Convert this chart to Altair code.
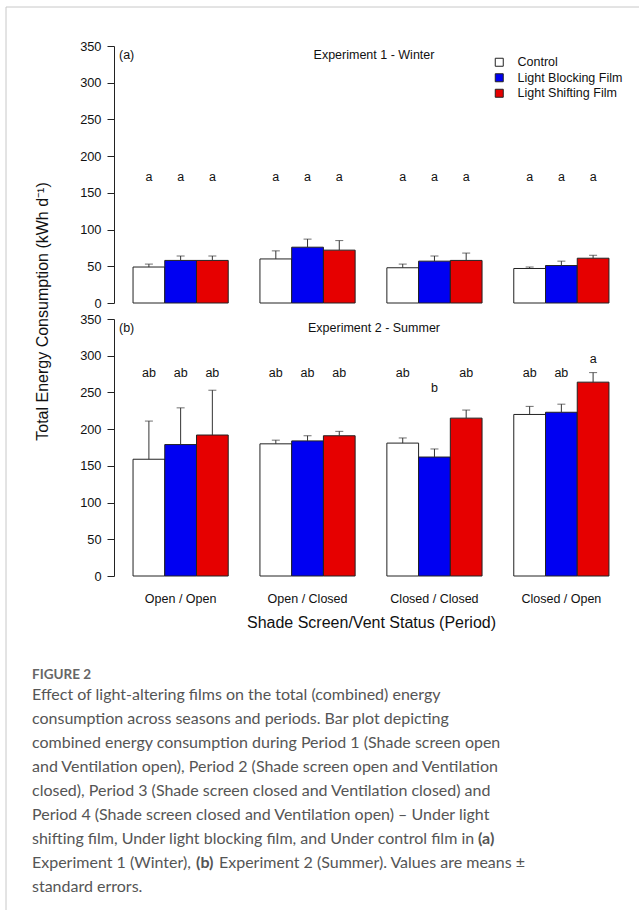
import altair as alt
import pandas as pd

F = "Liberation Sans"
CF = "Lato"
INK = "#111111"
CAP_INK = "#555555"

periods = ["Open / Open", "Open / Closed", "Closed / Closed", "Closed / Open"]
films = ["Control", "Light Blocking Film", "Light Shifting Film"]
film_colors = ["#FFFFFF", "#0000F2", "#E60000"]

# Experiment 1 - Winter: means and standard errors per film, per period
winter_control = [49, 60, 48, 47]
winter_blocking = [58, 76, 57, 51]
winter_shifting = [58, 72, 58, 61]
winter_control_se = [4, 11, 5, 2]
winter_blocking_se = [6, 11, 7, 6]
winter_shifting_se = [6, 13, 10, 4]
winter_letters_control = ["a", "a", "a", "a"]
winter_letters_blocking = ["a", "a", "a", "a"]
winter_letters_shifting = ["a", "a", "a", "a"]
winter_letter_height = [[172] * 4, [172] * 4, [172] * 4]

# Experiment 2 - Summer
summer_control = [159, 180, 181, 220]
summer_blocking = [179, 184, 162, 223]
summer_shifting = [192, 191, 215, 264]
summer_control_se = [52, 5, 7, 11]
summer_blocking_se = [50, 7, 11, 11]
summer_shifting_se = [61, 6, 11, 13]
summer_letters_control = ["ab", "ab", "ab", "ab"]
summer_letters_blocking = ["ab", "ab", "b", "ab"]
summer_letters_shifting = ["ab", "ab", "ab", "a"]
summer_letter_height = [[277, 277, 277, 277], [277, 277, 256, 277], [277, 277, 277, 296]]

y_ticks = [0, 50, 100, 150, 200, 250, 300, 350]

caption_lines = [
    "Effect of light-altering films on the total (combined) energy",
    "consumption across seasons and periods. Bar plot depicting",
    "combined energy consumption during Period 1 (Shade screen open",
    "and Ventilation open), Period 2 (Shade screen open and Ventilation",
    "closed), Period 3 (Shade screen closed and Ventilation closed) and",
    "Period 4 (Shade screen closed and Ventilation open) \u2013 Under light",
    "shifting film, Under light blocking film, and Under control film in",
    "Experiment 1 (Winter),",
    "standard errors.",
]
caption_bold_a = "(a)"
caption_bold_b = "(b)"
caption_line8_rest = "Experiment 2 (Summer). Values are means \u00b1"


def build(means, ses, letters, heights):
    rows = []
    for fi, film in enumerate(films):
        for pi, period in enumerate(periods):
            m = means[fi][pi]
            rows.append(dict(period=period, film=film, mean=m, upper=m + ses[fi][pi],
                             letter=letters[fi][pi], ly=heights[fi][pi]))
    return pd.DataFrame(rows)


winter_df = build([winter_control, winter_blocking, winter_shifting],
                  [winter_control_se, winter_blocking_se, winter_shifting_se],
                  [winter_letters_control, winter_letters_blocking, winter_letters_shifting],
                  winter_letter_height)
summer_df = build([summer_control, summer_blocking, summer_shifting],
                  [summer_control_se, summer_blocking_se, summer_shifting_se],
                  [summer_letters_control, summer_letters_blocking, summer_letters_shifting],
                  summer_letter_height)

W, H = 514, 257


def panel(df, tag, heading, bottom):
    xscale = alt.Scale(domain=periods, paddingInner=0.25, paddingOuter=0.15)
    if bottom:
        xaxis = alt.Axis(title="Shade Screen/Vent Status (Period)", domain=False, ticks=False,
                         labelPadding=16, labelFontSize=12.5, labelFont=F, labelColor=INK,
                         labelAngle=0, titleFontSize=16, titleFont=F, titleFontWeight="normal",
                         titleColor=INK, titlePadding=10)
        ytitle = "Total Energy Consumption (kWh d\u207b\u00b9)"
    else:
        xaxis = None
        ytitle = None
    xo = alt.XOffset("film:N", sort=films,
                     scale=alt.Scale(domain=films, paddingInner=0, paddingOuter=0))
    yscale = alt.Scale(domain=[0, 350], nice=False, zero=True)
    yaxis_kw = dict(values=y_ticks, grid=False, tickSize=7, labelPadding=6, labelFontSize=12.8,
                    labelFont=F, labelColor=INK, domainColor="#222", tickColor="#222",
                    domainWidth=1, tickWidth=1)
    if ytitle:
        yaxis = alt.Axis(title=ytitle, titleX=-72, titleY=-8, titleAngle=-90, titleAlign="center",
                         titleBaseline="middle", titleFontSize=16, titleFont=F,
                         titleFontWeight="normal", titleColor=INK, **yaxis_kw)
    else:
        yaxis = alt.Axis(title=None, **yaxis_kw)

    def X():
        return alt.X("period:N", sort=periods, scale=xscale, axis=xaxis,
                     title="Shade Screen/Vent Status (Period)" if bottom else None)

    def Y(field):
        return alt.Y(field, scale=yscale, axis=yaxis, title=ytitle)

    if bottom:
        legend = None
    else:
        legend = alt.Legend(title=None, orient="none", legendX=379, legendY=10,
                            symbolType="square", symbolSize=64, symbolStrokeColor="#222",
                            symbolStrokeWidth=1, labelFontSize=12.5, labelFont=F,
                            labelColor=INK, labelOffset=12, rowPadding=2.5, padding=0)

    bars = alt.Chart(df).mark_bar(stroke="#222", strokeWidth=1).encode(
        x=X(), xOffset=xo,
        y=Y("mean:Q"),
        color=alt.Color("film:N", sort=films,
                        scale=alt.Scale(domain=films, range=film_colors), legend=legend),
    )
    stems = alt.Chart(df).mark_rule(color="#333", strokeWidth=1).encode(
        x=X(), xOffset=xo,
        y=Y("mean:Q"), y2="upper:Q",
    )
    caps = alt.Chart(df).mark_tick(color="#333", thickness=1, size=8, orient="horizontal").encode(
        x=X(), xOffset=xo,
        y=Y("upper:Q"),
    )
    letters = alt.Chart(df).mark_text(font=F, fontSize=12.5, baseline="middle", color=INK).encode(
        x=X(), xOffset=xo,
        y=Y("ly:Q"),
        text="letter:N",
    )
    tag_txt = alt.Chart(pd.DataFrame({"t": [tag]})).mark_text(
        font=F, fontSize=12.5, align="left", baseline="middle", color=INK
    ).encode(x=alt.value(5), y=alt.value(9), text="t:N")
    head_txt = alt.Chart(pd.DataFrame({"t": [heading]})).mark_text(
        font=F, fontSize=12.5, align="center", baseline="middle", color=INK
    ).encode(x=alt.value(260), y=alt.value(9), text="t:N")
    return alt.layer(bars, stems, caps, letters, tag_txt, head_txt).properties(width=W, height=H)


top = panel(winter_df, "(a)", "Experiment 1 - Winter", False)
bottom = panel(summer_df, "(b)", "Experiment 2 - Summer", True)

rows = list(range(1, len(caption_lines) + 1))
row_scale = alt.Scale(domain=rows, range=[91, 307], paddingInner=0, paddingOuter=0)
cap_df = pd.DataFrame({"row": rows, "text": caption_lines})
cap_text = alt.Chart(cap_df).mark_text(
    font=CF, fontSize=16, align="left", baseline="middle", color=CAP_INK
).encode(
    x=alt.value(-82),
    y=alt.Y("row:O", scale=row_scale, axis=None),
    text="text:N",
)


def cap_piece(row, text, xpx, bold):
    return alt.Chart(pd.DataFrame({"row": [row], "text": [text]})).mark_text(
        font=CF, fontSize=16, align="left", baseline="middle", color=CAP_INK,
        fontWeight="bold" if bold else "normal",
    ).encode(x=alt.value(xpx), y=alt.Y("row:O", scale=row_scale, axis=None), text="text:N")


piece_a = cap_piece(7, caption_bold_a, 364, True)
piece_b = cap_piece(8, caption_bold_b, 82, True)
piece_rest = cap_piece(8, caption_line8_rest, 105, False)

fig_label = alt.Chart(pd.DataFrame({"t": ["FIGURE 2"]})).mark_text(
    font=CF, fontSize=13.5, fontWeight="bold", align="left", baseline="middle", color="#666666"
).encode(x=alt.value(-82), y=alt.value(83), text="t:N")
frame_left = alt.Chart(pd.DataFrame({"k": [0]})).mark_rule(color="#c8c8c8", strokeWidth=1).encode(
    x=alt.value(-108), y=alt.value(-585), y2=alt.value(318)
)
frame_top = alt.Chart(pd.DataFrame({"k": [0]})).mark_rule(color="#c8c8c8", strokeWidth=1).encode(
    x=alt.value(-108), x2=alt.value(525), y=alt.value(-585)
)
caption = alt.layer(frame_left, frame_top, fig_label, cap_text, piece_a, piece_b,
                    piece_rest).properties(width=W, height=318)

chart = alt.vconcat(top, bottom, caption, spacing=16, bounds="flush").resolve_scale(
    x="independent", y="independent", color="independent"
).configure_view(stroke=None).properties(
    padding={"left": 5, "top": 6, "right": 0, "bottom": 0}
)

chart.save("out.html", embed_options={"renderer": "svg", "actions": False})
